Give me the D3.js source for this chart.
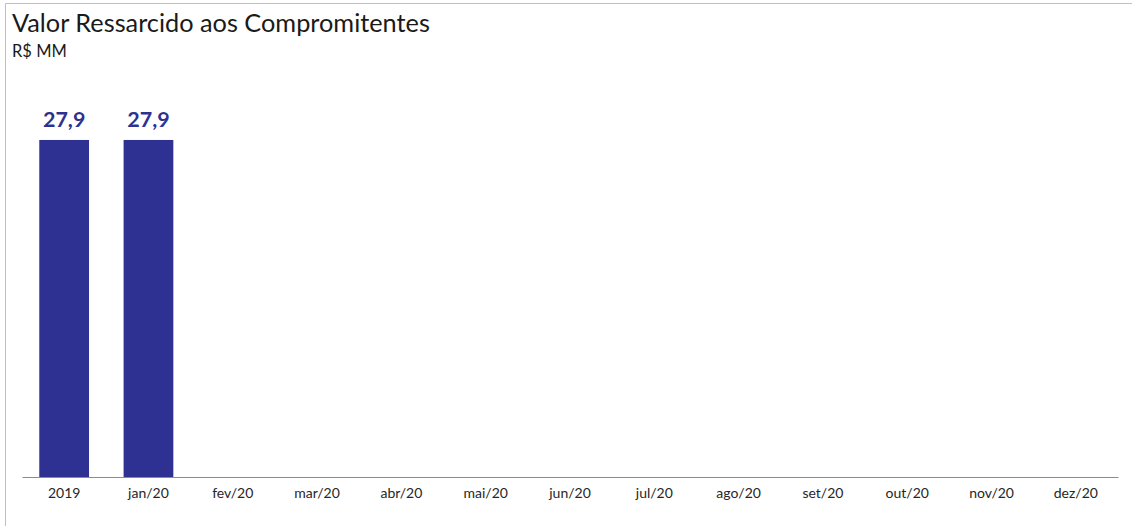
<!DOCTYPE html>
<html>
<head>
<meta charset="utf-8">
<script src="https://cdn.jsdelivr.net/npm/d3@7"></script>
<style>
  html, body { margin: 0; padding: 0; background: #fff; }
  svg { display: block; }
  text { font-family: Lato, "Open Sans", sans-serif; }
</style>
</head>
<body>
<svg id="chart" width="1132" height="526"></svg>
<script>
const categories = ["2019", "jan/20", "fev/20", "mar/20", "abr/20", "mai/20", "jun/20", "jul/20", "ago/20", "set/20", "out/20", "nov/20", "dez/20"];
const values = [27.9, 27.9, null, null, null, null, null, null, null, null, null, null, null];
const labels = ["27,9", "27,9"];
const title = "Valor Ressarcido aos Compromitentes";
const subtitle = "R$ MM";

const svg = d3.select("#chart");
const W = 1132, H = 526;

// frame
svg.append("line").attr("x1", 5.5).attr("x2", 5.5).attr("y1", 3.5).attr("y2", H)
  .attr("stroke", "#bfbfbf").attr("stroke-width", 1);
svg.append("line").attr("x1", 5.5).attr("x2", W).attr("y1", 3.5).attr("y2", 3.5)
  .attr("stroke", "#bfbfbf").attr("stroke-width", 1);

svg.append("text").attr("x", 12).attr("y", 32).attr("font-size", 25.3).attr("fill", "#1a1a1a").text(title);
svg.append("text").attr("x", 12).attr("y", 57).attr("font-size", 16.5).attr("fill", "#1a1a1a").text(subtitle);

const x = d3.scaleBand().domain(categories).range([22, 1118]).paddingInner(0.41).paddingOuter(0.205);
const y = d3.scaleLinear().domain([0, 30]).range([477, 114.6]);

const data = categories.map((c, i) => ({ c, v: values[i], label: labels[i] }));

svg.append("g").selectAll("rect").data(data.filter(d => d.v != null)).join("rect")
  .attr("x", d => x(d.c)).attr("width", x.bandwidth())
  .attr("y", d => y(d.v)).attr("height", d => y(0) - y(d.v))
  .attr("fill", "#2E3192");

svg.append("g").selectAll("text").data(data.filter(d => d.v != null)).join("text")
  .attr("x", d => x(d.c) + x.bandwidth() / 2).attr("y", d => y(d.v) - 13)
  .attr("text-anchor", "middle").attr("font-size", 21.5).attr("font-weight", "bold")
  .attr("fill", "#2E3192").text(d => d.label);

const xAxis = d3.axisBottom(x).tickSize(0).tickPadding(11);
const gx = svg.append("g").attr("transform", "translate(0,477)").call(xAxis);
gx.select(".domain").attr("stroke", "#8c8c8c").attr("stroke-width", 1.2);
gx.selectAll("text").attr("font-size", 14).attr("fill", "#262626")
  .style("font-family", "Lato, 'Open Sans', sans-serif");
</script>
</body>
</html>
